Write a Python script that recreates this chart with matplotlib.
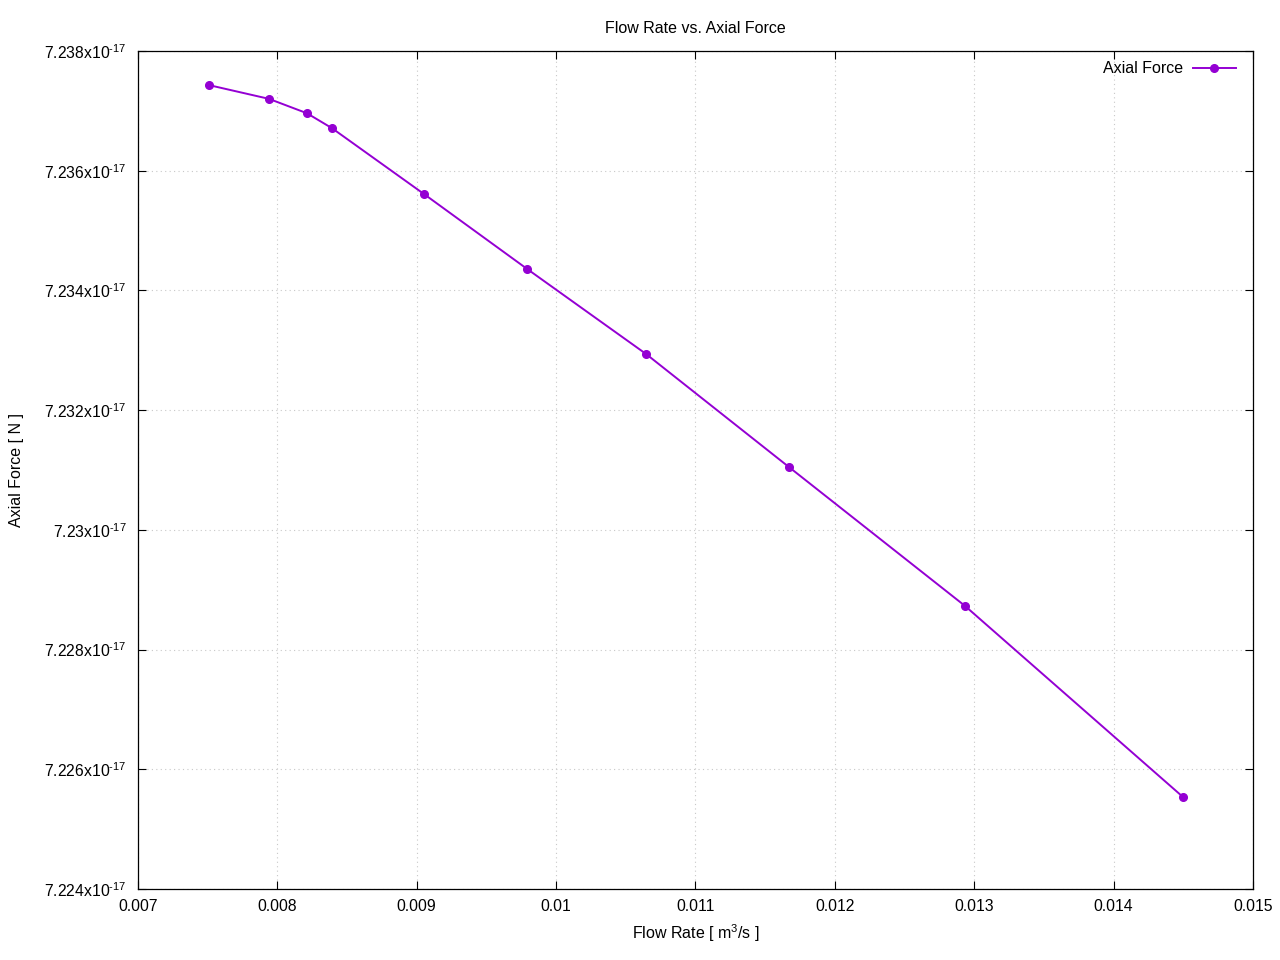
# plot.py
# Flow rate vs. axial force, drawn in a gnuplot-like style

import matplotlib
matplotlib.use("Agg")
import matplotlib.pyplot as plt
from matplotlib.ticker import FuncFormatter, MultipleLocator

# Data
flow_rate = [0.007509, 0.00794, 0.008212, 0.008392, 0.009052,
             0.009791, 0.010644, 0.01167, 0.012933, 0.014496]
axial_force = [7.23743e-17, 7.23720e-17, 7.23696e-17, 7.23671e-17, 7.23561e-17,
               7.23436e-17, 7.23294e-17, 7.23105e-17, 7.22873e-17, 7.22554e-17]

plt.rcParams['font.family'] = ['Liberation Sans', 'DejaVu Sans']
plt.rcParams['font.size'] = 11
plt.rcParams['mathtext.fontset'] = 'custom'
plt.rcParams['mathtext.rm'] = 'Liberation Sans'
plt.rcParams['mathtext.it'] = 'Liberation Sans'


def sci_label(v, pos):
    return r"$\mathregular{%gx10^{\text{-}17}}$" % (v / 1e-17)


def main():
    fig = plt.figure(figsize=(12.8, 9.6), dpi=100)
    ax = fig.add_axes([0.1078, 0.074, 0.8711, 0.8729])

    ax.plot(flow_rate, axial_force, color="#9400D3", linewidth=1.4,
            marker="o", markersize=5.5, label="Axial Force")

    ax.set_xlim(0.007, 0.015)
    ax.set_ylim(7.224e-17, 7.238e-17)
    ax.xaxis.set_major_locator(MultipleLocator(0.001))
    ax.yaxis.set_major_locator(MultipleLocator(0.002e-17))
    ax.xaxis.set_major_formatter(FuncFormatter(lambda v, p: f"{v:g}"))
    ax.yaxis.set_major_formatter(FuncFormatter(sci_label))
    ax.yaxis.get_offset_text().set_visible(False)
    ax.xaxis.get_offset_text().set_visible(False)

    ax.tick_params(direction="in", length=6, width=0.8, top=True, right=True,
                   labelsize=11.3, pad=7)
    ax.tick_params(axis="y", pad=8)
    for s in ax.spines.values():
        s.set_linewidth(0.9)

    ax.grid(True, color="#c8c8c8", linestyle=(0, (1, 3)), linewidth=0.8)

    ax.set_title("Flow Rate vs. Axial Force", fontsize=11.5, pad=13)
    ax.set_xlabel(r"Flow Rate [ m$^3$/s ]", fontsize=11.5, labelpad=6)
    ax.set_ylabel("Axial Force [ N ]", fontsize=11.5)
    ax.yaxis.set_label_coords(-0.102, 0.5)

    ax.legend(loc="upper right", bbox_to_anchor=(0.9905, 0.9955),
              frameon=False, markerfirst=False, fontsize=11.5,
              handlelength=2.7, handletextpad=0.63, borderaxespad=0)

    fig.savefig("out.png")


if __name__ == "__main__":
    main()
